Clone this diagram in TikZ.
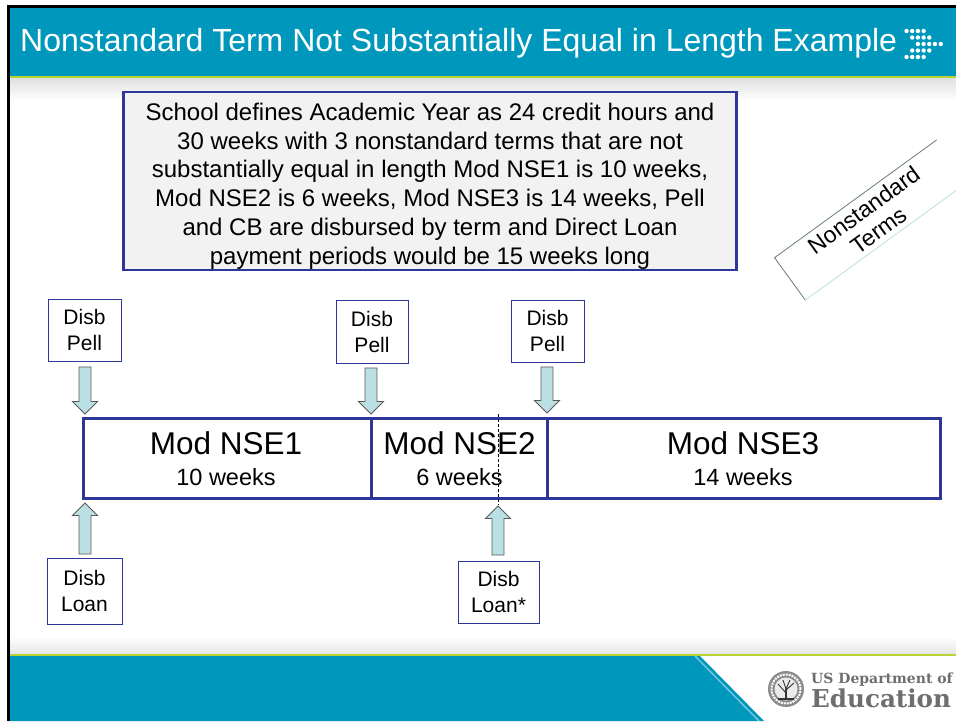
\documentclass[tikz,border=0pt]{standalone}
\usepackage{fontspec}
\setmainfont{Liberation Sans}
\newfontfamily\sealfont{DejaVu Serif}
\usetikzlibrary{shapes.arrows}
\definecolor{bannerteal}{HTML}{0097BC}
\definecolor{ruleline}{HTML}{B5D334}
\definecolor{boxblue}{HTML}{2F3699}
\definecolor{arrowfill}{HTML}{BBE0E3}
\definecolor{logogray}{HTML}{6E6E6E}

\begin{document}
\begin{tikzpicture}[
    x=1pt, y=-1pt,
    disb box/.style={draw=boxblue, fill=white, align=center, font=\fontsize{21}{26}\selectfont, inner sep=0pt},
    term box/.style={draw=boxblue, line width=3pt, inner sep=0pt, outer sep=0pt, minimum height=80pt},
    term text/.style={align=center, font=\fontsize{23.5}{31}\selectfont},
    disb arrow/.style={draw=black!65, fill=arrowfill, line width=0.9pt, single arrow, single arrow head extend=6.5pt,
        single arrow head indent=0pt, minimum width=25pt, inner xsep=0pt, inner ysep=5.5pt},
    ]
    \useasboundingbox (0,0) rectangle (956,721);

    % page, banner and footer
    \fill[white] (0,0) rectangle (956,721);
    \fill[top color=black!12, bottom color=white] (8,78) rectangle (956,100);
    \fill[top color=white, bottom color=black!10] (8,636) rectangle (956,654);
    \fill[bannerteal] (8,6) rectangle (956,76);
    \fill[ruleline] (8,76) rectangle (956,78);
    \fill[bannerteal] (8,656) -- (700,656) -- (764,721) -- (8,721) -- cycle;
    \draw[white, opacity=0.45, line width=1.5pt] (695,656) -- (759,721);
    \fill[ruleline] (8,654) rectangle (956,656);
    \draw[black, line width=3pt] (956,6) -- (8.5,6) -- (8.5,721);

    % title and dots
    \node[text=white, anchor=west, inner sep=0pt, font=\fontsize{32}{36}\selectfont] (title) at (20,43)
        {Nonstandard Term Not Substantially Equal in Length Example};
    \foreach \row/\first/\last in {0/0/3, 1/1/4, 2/2/6, 3/1/4, 4/0/3}
        \foreach \col in {\first,...,\last}
            \fill[white] (\col*5.7+906.5,\row*6.5+31) circle (2.2pt);

    % description
    \node[draw=boxblue, line width=2.5pt, fill=black!5, minimum width=613pt, minimum height=178pt, inner sep=0pt] (desc) at (430,181) {};
    \node[align=center, inner sep=0pt, font=\fontsize{24}{28.8}\selectfont] (desctext) at (430,186)
        {School defines Academic Year as 24 credit hours and\\
        30 weeks with 3 nonstandard terms that are not\\
        substantially equal in length Mod NSE1 is 10 weeks,\\
        Mod NSE2 is 6 weeks, Mod NSE3 is 14 weeks, Pell\\
        and CB are disbursed by term and Direct Loan\\
        payment periods would be 15 weeks long};

    % rotated label
    \node[rotate=36, minimum width=200pt, minimum height=52pt, inner sep=0pt, align=center, font=\fontsize{23}{25}\selectfont] (nonstd) at (871,220)
        {Nonstandard\\Terms};
    \draw[black!45!arrowfill, line width=0.8pt] (nonstd.south west) -- (nonstd.north west) -- (nonstd.north east);
    \draw[arrowfill, line width=0.8pt] (nonstd.south west) -- (nonstd.south east);

    % terms
    \node[term box, minimum width=288pt, anchor=north west] (nse1) at (83,418) {};
    \node[term box, minimum width=176pt, anchor=north west] (nse2) at (371,418) {};
    \node[term box, minimum width=393pt, anchor=north west] (nse3) at (547,418) {};
    \node[term text] (nse1text) at (226,459) {\fontsize{31.5}{31}\selectfont Mod NSE1\\10 weeks};
    \node[term text] (nse2text) at (459.5,459) {\fontsize{31.5}{31}\selectfont Mod NSE2\\6 weeks};
    \node[term text] (nse3text) at (743,459) {\fontsize{31.5}{31}\selectfont Mod NSE3\\14 weeks};

    % disbursements
    \node[disb box, minimum width=73pt, minimum height=62pt] (pell1) at (84.5,330) {Disb\\Pell};
    \node[disb box, minimum width=72pt, minimum height=63pt] (pell2) at (372,331.5) {Disb\\Pell};
    \node[disb box, minimum width=73pt, minimum height=62pt] (pell3) at (547.5,331) {Disb\\Pell};
    \node[disb box, minimum width=75pt, minimum height=66pt] (loan1) at (84.5,591) {Disb\\Loan};
    \node[disb box, minimum width=81pt, minimum height=62pt] (loan2) at (498.5,592) {Disb\\Loan*};

    \node[disb arrow, rotate=-90, minimum height=47pt] (arr1) at (85,387.5) {};
    \node[disb arrow, rotate=-90, minimum height=46pt] (arr2) at (371,388) {};
    \node[disb arrow, rotate=-90, minimum height=46pt] (arr3) at (547,387) {};
    \node[disb arrow, rotate=90, minimum height=51pt] (arr4) at (85,531.5) {};
    \node[disb arrow, rotate=90, minimum height=49pt] (arr5) at (498,533.5) {};

    \coordinate (dashtop) at (498,414);
    \draw[black, densely dashed, line width=0.7pt] (dashtop) -- (arr5.east);

    % logo
    \fill[black!45] (786,689) circle (18pt);
    \draw[white, densely dotted, line width=2pt] (786,689) circle (14.5pt);
    \fill[black!8] (786,689) circle (11.5pt);
    \draw[black!80, line width=1.6pt] (786,699) -- (786,689);
    \draw[black!80, line width=0.9pt] (786,693) -- (778,684) (786,690) -- (794,683) (786,689) -- (783,680) (786,689) -- (790,680);
    \draw[black!80, line width=1.4pt] (778,699) -- (794,699);
    \node[anchor=west, inner sep=0pt, text=logogray, font=\sealfont\bfseries\fontsize{14}{16}\selectfont] (dept) at (811,680) {US Department of};
    \node[anchor=west, inner sep=0pt, text=logogray, font=\sealfont\bfseries\fontsize{24.6}{26}\selectfont] (edu) at (811,698) {Education};
\end{tikzpicture}
\end{document}
